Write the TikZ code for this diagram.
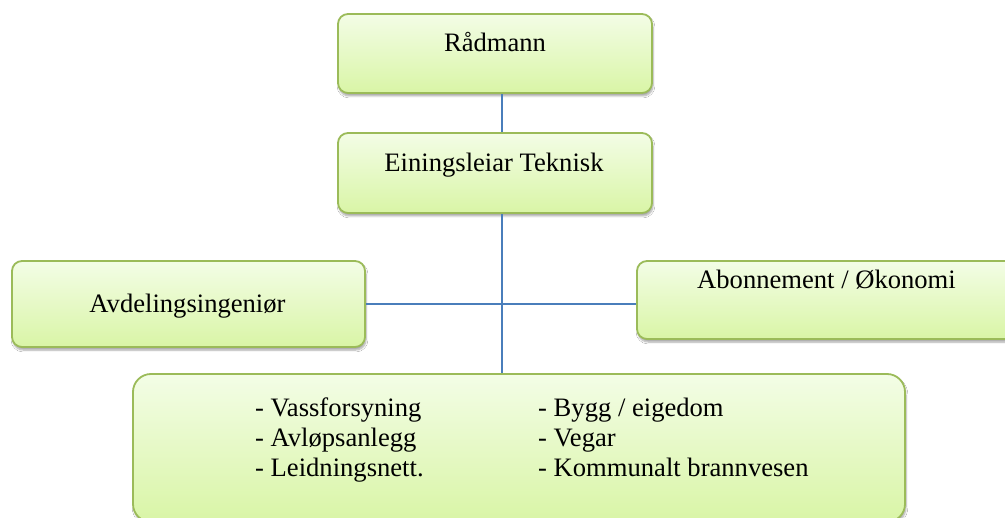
\documentclass[tikz,border=0pt]{standalone}
\usepackage{fontspec}
\setmainfont{Liberation Serif}
\usetikzlibrary{shadows.blur,calc}
\definecolor{boxborder}{HTML}{9BBB59}
\definecolor{boxtop}{HTML}{F3FDE6}
\definecolor{boxbottom}{HTML}{D9F5A6}
\definecolor{linkblue}{HTML}{4A7EBB}
\tikzset{
  box/.style={draw=boxborder, line width=1.8pt, rounded corners=10pt,
    top color=boxtop, bottom color=boxbottom, inner sep=0pt,
    blur shadow={shadow xshift=1pt, shadow yshift=-3pt, shadow blur steps=6, shadow opacity=35}},
  lbl/.style={font=\fontsize{26.6}{31}\selectfont, inner sep=0pt, anchor=base},
  link/.style={draw=linkblue, line width=1.6pt}
}
\begin{document}
\begin{tikzpicture}[x=1pt,y=-1pt]
\useasboundingbox (0,0) rectangle (1005,518);
\fill[white] (0,0) rectangle (1005,518);
\coordinate (spine) at (502,0);
% boxes
\node[box, minimum width=314pt, minimum height=79pt] (rad) at (495,53.5) {};
\node[box, minimum width=314pt, minimum height=80pt] (ein) at (495,173) {};
\node[box, minimum width=353pt, minimum height=86pt] (avd) at (188.5,304) {};
\node[box, minimum width=378pt, minimum height=78pt] (abo) at (826,300) {};
\node[box, rounded corners=18pt, minimum width=772pt, minimum height=148pt] (units) at (519,448) {};
% connectors
\draw[link] (rad.south -| spine) -- (ein.north -| spine);
\draw[link] (ein.south -| spine) -- (units.north -| spine);
\draw[link] (avd.east) -- (abo.west |- avd.east);
% texts
\node[lbl] (radt) at (495,52) {Rådmann};
\node[lbl] (eint) at (494,172) {Einingsleiar Teknisk};
\node[lbl] (avdt) at (187.5,313) {Avdelingsingeniør};
\node[lbl] (abot) at (826.5,289) {Abonnement / Økonomi};
\node[lbl, anchor=base west] (u1) at (255,417) {- Vassforsyning};
\node[lbl, anchor=base west] (u2) at (255,447) {- Avløpsanlegg};
\node[lbl, anchor=base west] (u3) at (255,477) {- Leidningsnett.};
\node[lbl, anchor=base west] (u4) at (538,417) {- Bygg / eigedom};
\node[lbl, anchor=base west] (u5) at (538,447) {- Vegar};
\node[lbl, anchor=base west] (u6) at (538,477) {- Kommunalt brannvesen};
\end{tikzpicture}
\end{document}
